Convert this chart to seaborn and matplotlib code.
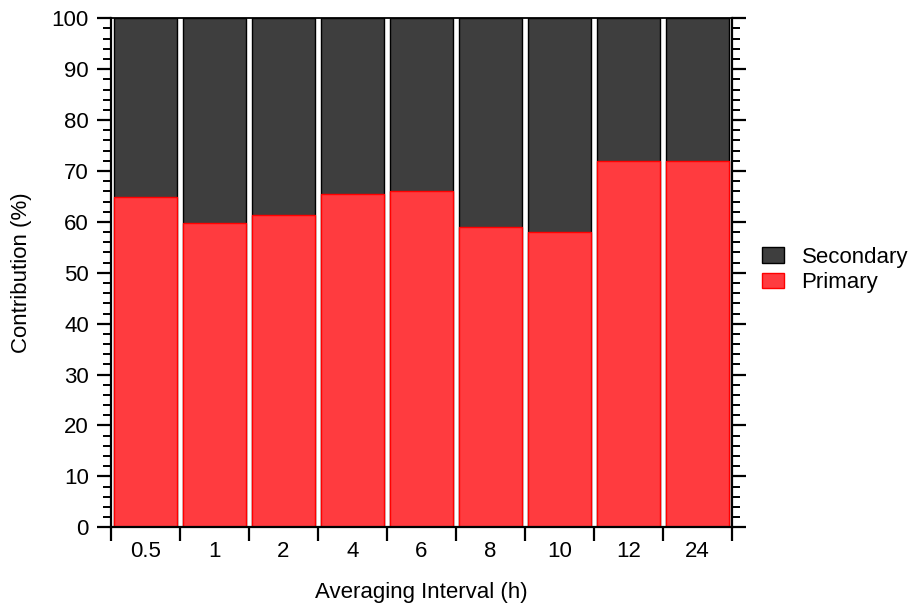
import matplotlib
matplotlib.use("Agg")

import matplotlib.pyplot as plt
import pandas as pd
import seaborn as sns
from matplotlib.patches import Patch
from matplotlib.ticker import FixedLocator, MultipleLocator

intervals = ["0.5", "1", "2", "4", "6", "8", "10", "12", "24"]
primary = [64.8, 59.8, 61.4, 65.5, 66.1, 59.0, 58.1, 72.0, 72.0]
secondary = [100 - p for p in primary]

primary_color = "#ff3b3f"
secondary_color = "#3e3e3e"

sns.set_theme(style="ticks")
plt.rcParams["font.family"] = ["Liberation Sans", "DejaVu Sans"]
plt.rcParams["text.color"] = "black"
plt.rcParams["axes.labelcolor"] = "black"

df = pd.DataFrame({"interval": intervals, "primary": primary, "secondary": secondary})
df["total"] = df["primary"] + df["secondary"]

fig = plt.figure(figsize=(9.12, 6.07), dpi=100)
ax = fig.add_axes([0.1217, 0.1313, 0.6809, 0.8386])

sns.barplot(data=df, x="interval", y="total", order=intervals, color=secondary_color,
            width=0.9, edgecolor="black", linewidth=1.0, saturation=1, ax=ax)
sns.barplot(data=df, x="interval", y="primary", order=intervals, color=primary_color,
            width=0.9, edgecolor="#ff0000", linewidth=1.0, saturation=1, ax=ax)

ax.set_xlim(-0.5, len(intervals) - 0.5)
ax.set_ylim(0, 100)

# y axis: major every 10, minor every 2, ticks on both sides
ax.yaxis.set_major_locator(MultipleLocator(10))
ax.yaxis.set_minor_locator(MultipleLocator(2))
ax.tick_params(axis="y", which="major", direction="out", length=10, width=1.6,
               left=True, right=True, labelsize=16, pad=6, colors="black")
ax.tick_params(axis="y", which="minor", direction="out", length=6, width=1.4,
               left=True, right=True, colors="black")

# x axis: tick marks between bars, labels centred under bars
ax.xaxis.set_major_locator(FixedLocator([i - 0.5 for i in range(len(intervals) + 1)]))
ax.xaxis.set_minor_locator(FixedLocator(list(range(len(intervals)))))
ax.xaxis.set_major_formatter(plt.NullFormatter())
ax.xaxis.set_minor_formatter(plt.FixedFormatter(intervals))
ax.tick_params(axis="x", which="major", direction="out", length=10, width=1.6, colors="black")
ax.tick_params(axis="x", which="minor", length=0, pad=10, labelsize=16, colors="black")

for side in ["left", "right", "bottom", "top"]:
    ax.spines[side].set_visible(True)
    ax.spines[side].set_color("black")
ax.spines["left"].set_linewidth(1.6)
ax.spines["right"].set_linewidth(1.6)
ax.spines["bottom"].set_linewidth(1.6)
ax.spines["top"].set_linewidth(1.3)

ax.set_xlabel("Averaging Interval (h)", fontsize=16, labelpad=14, color="black")
ax.set_ylabel("Contribution (%)", fontsize=16, labelpad=14, color="black")

handles = [
    Patch(facecolor=secondary_color, edgecolor="black", label="Secondary"),
    Patch(facecolor=primary_color, edgecolor="#ff0000", label="Primary"),
]
fig.legend(handles=handles, loc="center left", bbox_to_anchor=(0.818, 0.555),
           frameon=False, fontsize=16, handlelength=1.0, handleheight=0.7,
           handletextpad=0.8, labelspacing=0.2, borderaxespad=0.3, labelcolor="black")

fig.savefig("out.png", dpi=100)
plt.close(fig)
